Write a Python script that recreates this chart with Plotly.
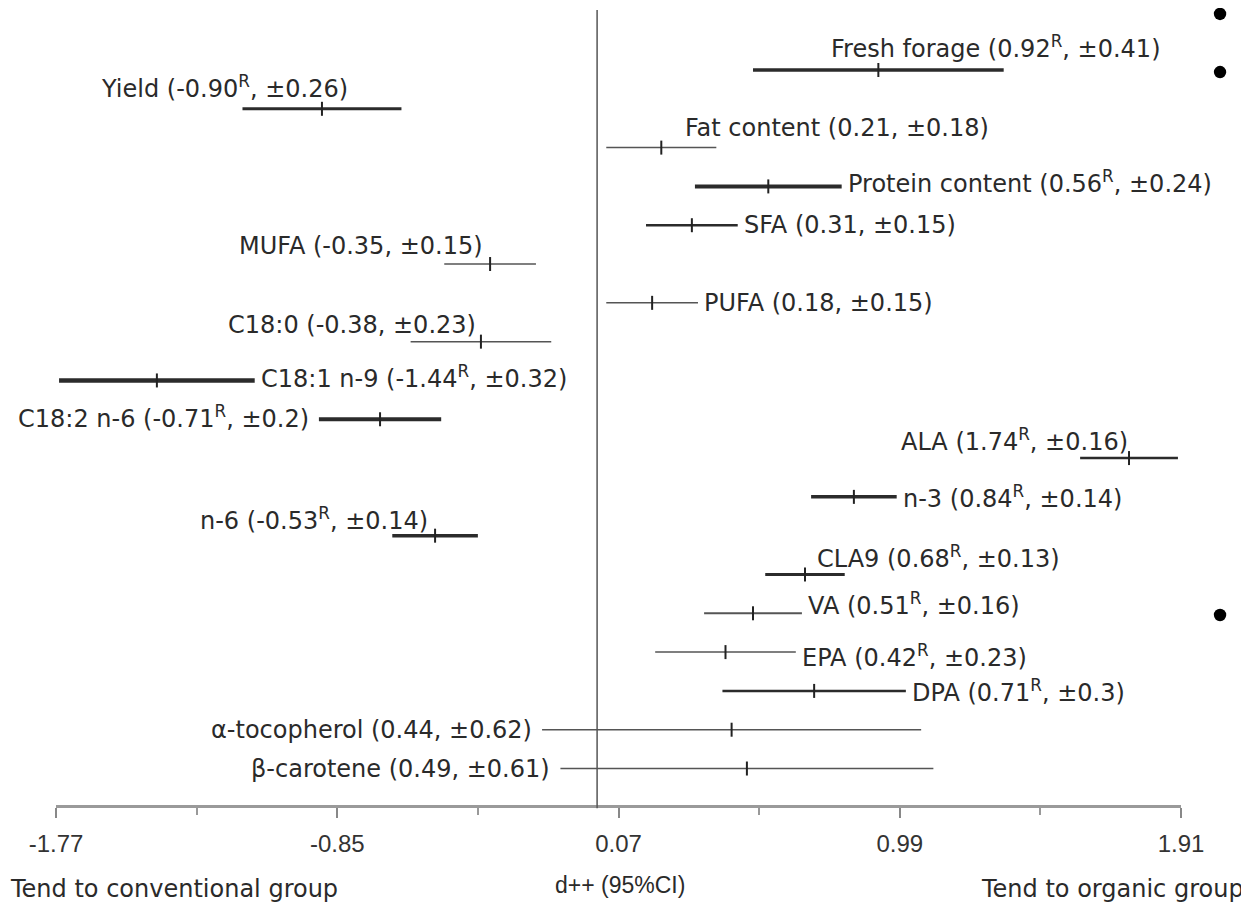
import plotly.graph_objects as go

# ---- data ----
names = ["Fresh forage", "Yield", "Fat content", "Protein content", "SFA", "MUFA",
         "PUFA", "C18:0", "C18:1 n-9", "C18:2 n-6", "ALA", "n-3", "n-6", "CLA9",
         "VA", "EPA", "DPA", "α-tocopherol", "β-carotene"]
effect = [0.92, -0.90, 0.21, 0.56, 0.31, -0.35, 0.18, -0.38, -1.44, -0.71,
          1.74, 0.84, -0.53, 0.68, 0.51, 0.42, 0.71, 0.44, 0.49]
ci_half = [0.41, 0.26, 0.18, 0.24, 0.15, 0.15, 0.15, 0.23, 0.32, 0.2,
           0.16, 0.14, 0.14, 0.13, 0.16, 0.23, 0.3, 0.62, 0.61]
significant = [True, True, False, True, False, False, False, False, True, True,
               True, True, True, True, True, True, True, False, False]
tick_values = [-1.77, -0.85, 0.07, 0.99, 1.91]
tick_labels = ["-1.77", "-0.85", "0.07", "0.99", "1.91"]
minor_tick_values = [-1.31, -0.39, 0.53, 1.45]

# ---- styles (line width per row, label placement) ----
line_widths = [3.5, 3, 1.5, 4, 2.5, 1.5, 1.5, 1.5, 4.5, 4, 2.5, 3.5, 3.5, 3, 2, 1.5, 2.5, 1.5, 1.5]
# (mode, x for centered labels, vertical pixel offset; negative = up)
label_place = [
    ("above", 1.305, -23), ("above", -1.220, -22), ("above", 0.785, -20),
    ("right", None, -4), ("right", None, 0), ("above", -0.772, -18),
    ("right", None, 0), ("above", -0.802, -17), ("right", None, -3),
    ("left", None, -2), ("above", 1.364, -18), ("right", None, 0),
    ("above", -0.926, -17), ("above", 1.118, -17), ("right", None, -9),
    ("right", None, 4), ("right", None, 0), ("left", None, 0), ("left", None, 0),
]

LABEL_FONT = dict(family="DejaVu Sans", size=24, color="#2a2a2a")

fig = go.Figure()
annotations = []
for i, (n, e, c, s) in enumerate(zip(names, effect, ci_half, significant)):
    lo, hi = e - c, e + c
    color = "#2b2b2b" if line_widths[i] >= 2.5 else "#555555"
    fig.add_trace(go.Scatter(x=[lo, hi], y=[i, i], mode="lines",
                             line=dict(color=color, width=line_widths[i]),
                             hoverinfo="skip", showlegend=False))
    fig.add_trace(go.Scatter(x=[e], y=[i], mode="markers",
                             marker=dict(symbol="line-ns", size=10,
                                         line=dict(color="#222", width=2)),
                             showlegend=False))
    txt = f"{n} ({e:.2f}{'<sup>R</sup>' if s else ''}, ±{c:g})"
    mode, xv, dy = label_place[i]
    if mode == "above":
        annotations.append(dict(x=xv, y=i, text=txt, xanchor="center", yanchor="middle",
                                yshift=-dy, showarrow=False, font=LABEL_FONT))
    elif mode == "right":
        annotations.append(dict(x=hi, y=i, text=txt, xanchor="left", yanchor="middle",
                                xshift=4, yshift=-dy, showarrow=False, font=LABEL_FONT))
    else:
        annotations.append(dict(x=lo, y=i, text=txt, xanchor="right", yanchor="middle",
                                xshift=-8, yshift=-dy, showarrow=False, font=LABEL_FONT))

# bottom texts
annotations += [
    dict(x=-0.0425, y=-0.106, xref="paper", yref="paper", text="Tend to conventional group",
         xanchor="left", yanchor="middle", showarrow=False, font=LABEL_FONT),
    dict(x=0.82, y=-0.106, xref="paper", yref="paper", text="Tend to organic group",
         xanchor="left", yanchor="middle", showarrow=False, font=LABEL_FONT),
    dict(x=0.501, y=-0.101, xref="paper", yref="paper", text="d++ (95%CI)",
         xanchor="center", yanchor="middle", showarrow=False,
         font=dict(family="Liberation Sans Narrow, Liberation Sans", size=23, color="#2a2a2a")),
]

# zero line
fig.add_shape(type="line", x0=0, x1=0, y0=-0.004, y1=1, xref="x", yref="paper",
              line=dict(color="#555", width=1.5))
# stray bullet dots at the right edge
for by in [0.995, 0.922, 0.239]:
    fig.add_shape(type="circle", xref="paper", yref="paper",
                  x0=1.0347 - 0.0055, x1=1.0347 + 0.0055,
                  y0=by - 0.0078, y1=by + 0.0078,
                  fillcolor="black", line=dict(color="black", width=0))

fig.update_layout(
    width=1241, height=897,
    margin=dict(l=48, r=68, t=2, b=100),
    paper_bgcolor="white", plot_bgcolor="white",
    annotations=annotations,
    xaxis=dict(range=[-1.77, 1.91], showgrid=False, zeroline=False,
               showline=True, linecolor="#9a9a9a", linewidth=3,
               tickmode="array", tickvals=tick_values, ticktext=tick_labels,
               ticks="outside", ticklen=10, tickwidth=2, tickcolor="#888",
               ticklabelstandoff=5,
               tickfont=dict(family="Liberation Sans Narrow, Liberation Sans", size=24, color="#333"),
               minor=dict(tickmode="array", tickvals=minor_tick_values, ticks="outside",
                          ticklen=7, tickwidth=2, tickcolor="#999")),
    yaxis=dict(range=[18.94, -1.546], visible=False, showgrid=False, zeroline=False),
)

fig.write_html("out.html")
